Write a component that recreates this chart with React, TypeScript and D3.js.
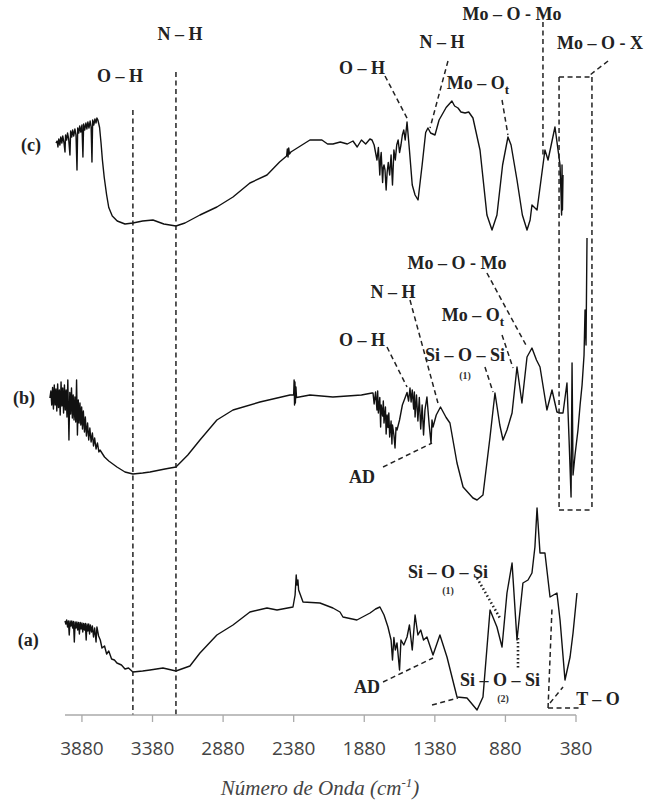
import React from "react"
import * as d3 from "d3"

// wavenumber (cm-1), arbitrary stacked transmittance
const seriesC: [number, number][] = [
  [4064, 114.4], [4056, 114.8], [4050, 113.6], [4044, 115.2], [4036, 114], [4030, 115.6], [4022, 114.4],
  [4016, 115.8], [4008, 114.6], [4000, 112.6], [3996, 116], [3988, 115], [3982, 116.4], [3974, 115.2],
  [3965, 112], [3960, 116.8], [3952, 115.6], [3946, 117], [3938, 115.8], [3930, 117.2], [3922, 116],
  [3915, 109], [3910, 117.4], [3902, 116.4], [3896, 117.8], [3888, 116.6], [3880, 118], [3873, 111.6],
  [3868, 118.2], [3860, 117], [3852, 118.4], [3845, 117.2], [3838, 118.6], [3830, 117.4], [3822, 118.8],
  [3815, 117.6], [3809, 110.6], [3804, 119], [3796, 118], [3788, 119.2], [3780, 118.4], [3774, 119.4],
  [3767, 119], [3755, 117.5], [3745, 114.5], [3735, 111], [3722, 107.5], [3705, 104], [3690, 101.5],
  [3665, 99.8], [3630, 98.8], [3575, 98.2], [3519, 98.4], [3450, 98.8], [3377, 99], [3300, 98.2],
  [3214, 97.8], [3150, 98.4], [3044, 100], [2924, 101.6], [2810, 103.6], [2690, 106.4], [2569, 108],
  [2480, 110.6], [2430, 111.8], [2425, 113.2], [2420, 111.6], [2415, 113.4], [2410, 112.2], [2400, 112.6],
  [2265, 115], [2180, 115], [2140, 114.2], [2102, 114.2], [2050, 114.6], [2000, 114.2], [1960, 114.8],
  [1930, 113.6], [1900, 115], [1870, 114.2], [1840, 115.2], [1825, 115], [1810, 114], [1800, 112.5],
  [1790, 111], [1780, 113.5], [1770, 108], [1764, 111.5], [1760, 112.5], [1750, 106.5], [1745, 109.5],
  [1740, 110], [1733, 109], [1725, 105], [1718, 108.5], [1710, 110.5], [1700, 108], [1690, 112],
  [1680, 106], [1670, 113], [1660, 111], [1650, 114], [1640, 115], [1630, 112.5], [1620, 114],
  [1610, 116], [1600, 117], [1590, 115], [1577, 118.6], [1560, 113], [1540, 106], [1520, 104],
  [1499, 103], [1470, 110], [1445, 116.5], [1429, 117.4], [1410, 116.4], [1379, 116], [1350, 119],
  [1300, 121.5], [1259, 122.8], [1240, 121.8], [1216, 121.4], [1195, 120.6], [1166, 120.4], [1140, 120.6],
  [1110, 119.4], [1060, 113], [1011, 100], [975, 97], [940, 100], [900, 110], [862, 115.6], [840, 114],
  [798, 107], [760, 100], [727, 97], [705, 99], [692, 102], [656, 101], [600, 113], [578, 111],
  [529, 117.6], [493, 110], [486, 104], [482, 100], [479, 110], [476, 101], [472, 108],
]

const seriesB: [number, number][] = [
  [4107, 63.4], [4100, 64.8], [4094, 62], [4088, 65.5], [4082, 61.2], [4076, 66], [4070, 62], [4064, 65.2],
  [4058, 60.8], [4052, 66.2], [4046, 61.5], [4040, 65], [4034, 60], [4028, 66.6], [4022, 61.8],
  [4016, 65.4], [4010, 60.4], [4004, 66], [3998, 61], [3992, 65], [3986, 59.6], [3980, 67],
  [3972, 55], [3966, 64.5], [3960, 60.2], [3954, 65.4], [3948, 59.4], [3942, 64], [3936, 59],
  [3930, 63.6], [3924, 58.6], [3918, 67], [3912, 56], [3906, 63], [3900, 58.4], [3894, 62.4],
  [3888, 58], [3882, 61.6], [3876, 57.2], [3870, 60.8], [3862, 56.6], [3856, 59.6], [3848, 55.8],
  [3840, 58.4], [3832, 55], [3824, 57.4], [3815, 54.6], [3806, 56.4], [3798, 53.8], [3790, 55.4],
  [3780, 53.2], [3770, 54.4], [3760, 52.6], [3752, 53], [3720, 51.6], [3690, 50.8], [3632, 49.6],
  [3575, 48.6], [3519, 48.2], [3450, 48.4], [3398, 48.6], [3292, 49.2], [3214, 49.6], [3130, 52],
  [3044, 55], [2924, 59], [2810, 61], [2619, 62.6], [2406, 64], [2380, 64], [2377, 67], [2374, 62],
  [2371, 66.6], [2368, 62.4], [2364, 65.6], [2360, 63.5], [2265, 64], [2102, 63.6], [2000, 63.8],
  [1900, 64], [1825, 64.4], [1818, 64.4], [1810, 62.2], [1800, 64.6], [1790, 61], [1785, 64.8],
  [1780, 60.4], [1770, 63.5], [1764, 57.6], [1760, 62], [1750, 59.8], [1745, 62.8], [1740, 58.4],
  [1730, 61.6], [1725, 56.2], [1718, 60], [1712, 57.5], [1706, 60.4], [1700, 55.6], [1690, 58.8],
  [1684, 54.2], [1680, 58], [1670, 56], [1662, 53.4], [1655, 57.5], [1648, 57], [1630, 59], [1610, 62],
  [1590, 63.5], [1577, 64.5], [1566, 62.8], [1556, 65.4], [1548, 62.6], [1540, 65], [1530, 61.2],
  [1525, 64.6], [1520, 59.6], [1510, 64], [1500, 58.8], [1490, 63.5], [1480, 57.2], [1470, 62],
  [1460, 56], [1450, 61], [1436, 63.6], [1420, 58], [1407, 54.4], [1400, 59], [1393, 57.6], [1370, 60],
  [1340, 61.6], [1300, 59.5], [1273, 58.4], [1223, 50.4], [1180, 45.6], [1110, 43.4], [1081, 43],
  [1039, 44], [989, 55.6], [954, 64.4], [920, 58], [897, 55], [869, 57], [833, 60.4], [798, 69.6],
  [763, 62.4], [727, 71.6], [692, 73.4], [660, 71], [635, 69.6], [586, 61], [550, 65], [515, 60.6],
  [493, 60.4], [472, 60.4], [444, 66.4], [429, 55], [415, 43.6], [408, 70.4], [401, 48], [387, 52],
  [366, 57], [351, 62], [337, 66], [323, 72], [316, 81], [309, 74], [302, 95.4],
]

const seriesA: [number, number][] = [
  [4000, 18.8], [3994, 18.2], [3988, 19], [3982, 17.6], [3976, 18.8], [3970, 16], [3964, 18.8],
  [3958, 17.8], [3952, 18.8], [3946, 17.4], [3940, 18.7], [3934, 14.6], [3928, 18.6], [3922, 17.4],
  [3916, 18.6], [3910, 17], [3904, 18.5], [3898, 16.2], [3892, 18.5], [3886, 17.2], [3880, 18.4],
  [3874, 16.6], [3868, 18.3], [3862, 17], [3856, 18.3], [3850, 15], [3844, 18.2], [3838, 16.8],
  [3832, 18.2], [3826, 16.2], [3820, 18], [3812, 16.6], [3806, 17.8], [3798, 15.6], [3790, 17.4],
  [3780, 14.6], [3774, 17.6], [3762, 15.8], [3750, 15], [3738, 13.4], [3720, 13.8], [3705, 12.2],
  [3690, 12.8], [3670, 11.2], [3650, 11], [3632, 10.4], [3600, 10], [3575, 9.2], [3550, 9.4],
  [3519, 8.6], [3450, 8.8], [3398, 9], [3306, 9.4], [3214, 8.8], [3115, 9.8], [3044, 12.4], [2924, 16],
  [2810, 18], [2690, 20.6], [2569, 21.4], [2498, 21], [2385, 21.6], [2370, 24], [2362, 28], [2357, 26],
  [2350, 27], [2345, 25], [2314, 22.6], [2194, 22.4], [2102, 21.4], [2052, 20.6], [2031, 19.6],
  [1932, 19], [1839, 20.4], [1800, 21.2], [1769, 21.6], [1740, 20], [1712, 17.6], [1690, 15],
  [1680, 11], [1670, 15.5], [1660, 13], [1648, 14.4], [1630, 9], [1620, 15], [1600, 14], [1577, 15.6],
  [1560, 18], [1540, 13], [1520, 20], [1500, 16], [1480, 17], [1460, 15], [1436, 15.6], [1393, 12],
  [1344, 16], [1294, 11.6], [1223, 3.6], [1152, 3.4], [1081, 1], [1039, 3.6], [989, 21], [940, 17.6],
  [904, 13.6], [869, 24.4], [833, 30.4], [798, 15], [756, 26.4], [720, 27], [692, 28.4], [671, 33.6],
  [656, 41.4], [635, 32.4], [600, 32.4], [564, 23.6], [515, 24.4], [493, 19], [458, 7], [422, 11.6],
  [401, 16.4], [373, 24.4],
]

const tickValues = [3880, 3380, 2880, 2380, 1880, 1380, 880, 380]

const traceLabels = [
  { text: "(c)", wn: 4241, v: 114 },
  { text: "(b)", wn: 4290, v: 63.4 },
  { text: "(a)", wn: 4260, v: 15 },
]

// band labels: text, position, optional subscript
const bandLabels = [
  { text: "O – H", wn: 3610, v: 127.8 },
  { text: "N – H", wn: 3186, v: 136.2 },
  { text: "O – H", wn: 1896, v: 129.4 },
  { text: "N – H", wn: 1329, v: 134.6 },
  { text: "Mo – O", sub: "t", wn: 1074, v: 126.4 },
  { text: "Mo – O - Mo", wn: 833, v: 140.2 },
  { text: "Mo – O - X", wn: 210, v: 134.4 },
  { text: "Mo – O - Mo", wn: 1223, v: 90.4 },
  { text: "N – H", wn: 1676, v: 84.6 },
  { text: "Mo – O", sub: "t", wn: 1110, v: 80 },
  { text: "O – H", wn: 1896, v: 75 },
  { text: "Si – O – Si", wn: 1166, v: 72 },
  { text: "AD", wn: 1896, v: 47.6 },
  { text: "Si – O – Si", wn: 1287, v: 28.6 },
  { text: "AD", wn: 1861, v: 5.6 },
  { text: "Si – O – Si", wn: 919, v: 7 },
  { text: "T – O", wn: 224, v: 3.2 },
]

const notes = [
  { text: "(1)", wn: 1166, v: 68 },
  { text: "(1)", wn: 1287, v: 25 },
  { text: "(2)", wn: 897, v: 3.4 },
]

// leader lines [wn1, v1, wn2, v2]
const dashed: [number, number, number, number][] = [
  [3519, 121, 3519, 0],
  [3214, 128.6, 3214, 0],
  [1733, 127.8, 1570, 119],
  [1287, 130.8, 1414, 117.4],
  [904, 123, 862, 116],
  [614, 138.6, 614, 111.6],
  [153, 130.8, 281, 128],
  [500, 127.6, 267, 127.6],
  [500, 127.6, 500, 41],
  [267, 127.6, 267, 41],
  [500, 41, 267, 41],
  [1011, 88.4, 727, 73.6],
  [1556, 83, 1358, 62.4],
  [904, 76, 826, 69.4],
  [1719, 73.6, 1577, 65.6],
  [1025, 69.6, 968, 64.6],
  [1747, 49.6, 1400, 54.4],
  [1747, 6.6, 1393, 11.4],
  [1400, 2, 1216, 3.4],
  [578, 1.4, 351, 1.4],
  [578, 1.4, 550, 21.4],
  [564, 2.4, 472, 5.6],
]

const dotted: [number, number, number, number][] = [
  [1081, 27.4, 919, 19.4],
  [791, 15.4, 791, 9.4],
]

const W = 650
const H = 801
const x = d3.scaleLinear().domain([4000, 380]).range([65, 576])
const y = d3.scaleLinear().domain([0, 140]).range([715, 15])

const line = d3
  .line<[number, number]>()
  .x((d) => x(d[0]))
  .y((d) => y(d[1]))

const serif = "'Liberation Serif', 'DejaVu Serif', serif"

export default function App() {
  return (
    <svg
      width={W}
      height={H}
      style={{ position: "absolute", left: 0, top: 0, background: "#fff" }}
      fontFamily={serif}
    >
      {[seriesC, seriesB, seriesA].map((s, i) => (
        <path key={i} d={line(s) || ""} fill="none" stroke="#111" strokeWidth={1.4} strokeLinejoin="round" />
      ))}

      {dashed.map((d, i) => (
        <line
          key={"d" + i}
          x1={x(d[0])}
          y1={y(d[1])}
          x2={x(d[2])}
          y2={y(d[3])}
          stroke="#222"
          strokeWidth={1.5}
          strokeDasharray="5,3.5"
        />
      ))}
      {dotted.map((d, i) => (
        <line
          key={"o" + i}
          x1={x(d[0])}
          y1={y(d[1])}
          x2={x(d[2])}
          y2={y(d[3])}
          stroke="#222"
          strokeWidth={2.6}
          strokeDasharray="1.5,2.5"
        />
      ))}

      {/* axis */}
      <g>
        <line x1={x(4000)} x2={x(380)} y1={y(0)} y2={y(0)} stroke="#aaa" strokeWidth={1.3} />
        {tickValues.map((t) => (
          <g key={t} transform={`translate(${x(t)},${y(0)})`}>
            <line y2={7} stroke="#aaa" strokeWidth={1.3} />
            <text
              y={40}
              textAnchor="middle"
              fontSize={19}
              fontFamily="'Open Sans', 'Noto Sans', sans-serif"
              fill="#444"
            >
              {t}
            </text>
          </g>
        ))}
        <text
          x={320}
          y={795}
          textAnchor="middle"
          fontSize={21}
          fontStyle="italic"
          fill="#444"
        >
          Número de Onda (cm
          <tspan dy={-8} fontSize={13}>-1</tspan>
          <tspan dy={8}>)</tspan>
        </text>
      </g>

      {traceLabels.map((l) => (
        <text key={l.text} x={x(l.wn)} y={y(l.v)} dy="0.35em" textAnchor="middle" fontSize={18} fontWeight="bold" fill="#222">
          {l.text}
        </text>
      ))}

      {bandLabels.map((l, i) => (
        <text key={"b" + i} x={x(l.wn)} y={y(l.v)} dy="0.35em" textAnchor="middle" fontSize={18} fontWeight="bold" fill="#222">
          {l.text}
          {l.sub && (
            <tspan dy={5} fontSize={13}>
              {l.sub}
            </tspan>
          )}
        </text>
      ))}

      {notes.map((l, i) => (
        <text key={"n" + i} x={x(l.wn)} y={y(l.v)} dy="0.35em" textAnchor="middle" fontSize={10} fontWeight="bold" fill="#333">
          {l.text}
        </text>
      ))}
    </svg>
  )
}
